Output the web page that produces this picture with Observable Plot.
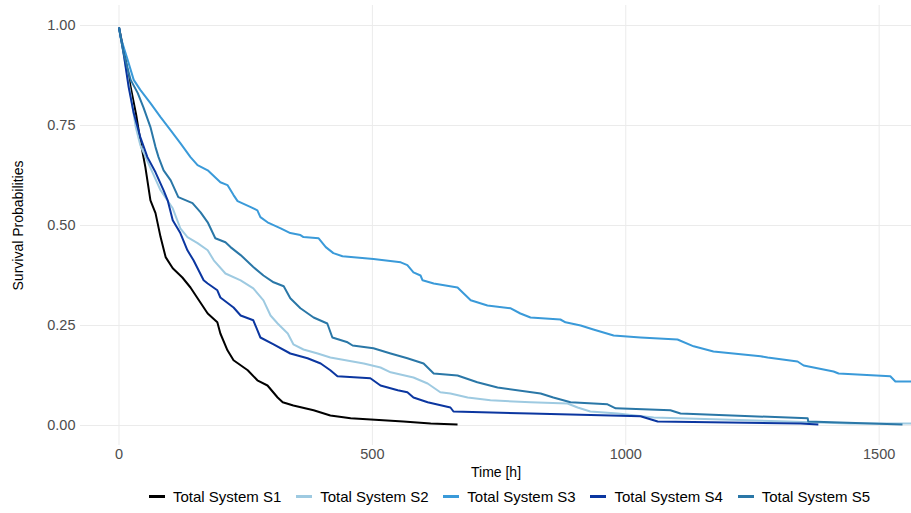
<!DOCTYPE html>
<html><head><meta charset="utf-8">
<script src="https://cdn.jsdelivr.net/npm/d3@7"></script>
<script src="https://cdn.jsdelivr.net/npm/@observablehq/plot@0.6"></script>
<style>
body{margin:0;background:#fff;font-family:"Liberation Sans",Arial,sans-serif;}
#legend{display:flex;justify-content:center;align-items:center;padding-left:108px;width:911px;box-sizing:border-box;height:33px;font-size:15px;color:#000;}
.item{display:flex;align-items:center;margin:0 7.4px;}
.key{width:16px;height:3px;margin-right:8px;}
</style></head><body><div id="chart"></div><div id="legend"></div>
<script>
const seriesNames = ["Total System S1","Total System S2","Total System S3","Total System S4","Total System S5"];
const seriesColors = ["#000000","#9ECAE1","#3A9AD9","#0B36A0","#2A77A7"];

const s1Time = [0,13,23,34,42,52,62,72,82,92,106,125,141,155,175,194,200,214,226,254,273,293,313,323,344,384,417,457,561,615,668];
const s1Surv = [0.995,0.914,0.846,0.776,0.713,0.646,0.563,0.531,0.471,0.421,0.393,0.370,0.345,0.318,0.280,0.258,0.230,0.188,0.163,0.138,0.113,0.100,0.070,0.058,0.050,0.038,0.025,0.018,0.010,0.005,0.0025];

const s2Time = [0,13,23,33,42,62,82,106,121,135,155,175,187,210,240,265,285,299,313,333,344,364,392,417,483,516,536,581,609,634,654,688,733,812,885,905,930,984,1055,1319,1443,1564];
const s2Surv = [0.995,0.901,0.826,0.746,0.701,0.644,0.588,0.543,0.493,0.471,0.456,0.438,0.413,0.380,0.363,0.343,0.313,0.275,0.255,0.230,0.203,0.190,0.180,0.170,0.155,0.145,0.133,0.120,0.105,0.083,0.080,0.070,0.063,0.058,0.055,0.045,0.035,0.030,0.020,0.010,0.005,0.005];

const s3Time = [0,3,17,29,42,62,82,102,121,141,155,175,200,214,226,234,260,273,279,293,319,338,358,364,394,408,423,441,502,556,569,581,595,599,621,668,694,727,773,792,812,871,881,911,936,976,1029,1102,1134,1173,1266,1280,1339,1351,1410,1420,1522,1532,1564];
const s3Surv = [0.995,0.971,0.914,0.864,0.839,0.806,0.771,0.738,0.706,0.671,0.651,0.638,0.608,0.601,0.576,0.561,0.546,0.538,0.521,0.508,0.493,0.481,0.476,0.471,0.468,0.446,0.431,0.423,0.416,0.408,0.401,0.383,0.375,0.363,0.355,0.345,0.313,0.300,0.293,0.280,0.270,0.265,0.258,0.250,0.240,0.225,0.220,0.215,0.198,0.185,0.173,0.170,0.160,0.150,0.135,0.130,0.123,0.110,0.110];

const s4Time = [0,9,19,29,42,56,72,88,96,106,121,135,147,167,175,194,200,226,240,265,279,305,338,372,398,417,431,496,516,550,569,581,609,654,660,812,1029,1063,1345,1380];
const s4Surv = [0.995,0.931,0.846,0.781,0.721,0.671,0.633,0.588,0.563,0.513,0.481,0.438,0.413,0.363,0.355,0.338,0.320,0.295,0.275,0.263,0.220,0.203,0.180,0.168,0.155,0.138,0.123,0.118,0.100,0.088,0.083,0.070,0.058,0.045,0.035,0.030,0.023,0.010,0.005,0.0025];

const s5Time = [0,9,23,37,48,62,72,78,88,102,117,145,161,175,190,210,220,240,265,285,305,325,338,358,384,411,421,451,461,502,536,569,601,621,668,707,747,832,857,891,964,980,1088,1108,1359,1360,1546];
const s5Surv = [0.995,0.931,0.864,0.831,0.796,0.746,0.696,0.671,0.638,0.613,0.571,0.556,0.533,0.508,0.468,0.458,0.446,0.426,0.396,0.375,0.358,0.348,0.318,0.293,0.270,0.255,0.220,0.208,0.200,0.193,0.180,0.168,0.155,0.130,0.125,0.108,0.095,0.080,0.070,0.058,0.053,0.043,0.038,0.030,0.018,0.010,0.0025];

const xTicks = [0,500,1000,1500];
const yTicks = [0,0.25,0.5,0.75,1];

const allTimes = [s1Time,s2Time,s3Time,s4Time,s5Time];
const allSurv = [s1Surv,s2Surv,s3Surv,s4Surv,s5Surv];
const rows = [];
seriesNames.forEach((name,i) => {
  allTimes[i].forEach((t,j) => rows.push({series:name, t, s: allSurv[i][j]}));
});

const chart = Plot.plot({
  width: 911, height: 480,
  marginLeft: 80, marginRight: 0, marginTop: 5, marginBottom: 35,
  style: {fontFamily: '"Liberation Sans", Arial, sans-serif', background: "#fff"},
  x: {domain: [-76, 1563.8]},
  y: {domain: [-0.05, 1.05]},
  color: {domain: seriesNames, range: seriesColors},
  marks: [
    Plot.gridX(xTicks, {stroke: "#EBEBEB", strokeOpacity: 1, strokeWidth: 1}),
    Plot.gridY(yTicks, {stroke: "#EBEBEB", strokeOpacity: 1, strokeWidth: 1}),
    Plot.axisX(xTicks, {tickSize: 0, tickPadding: 3, fontSize: 14.5, fill: "#4D4D4D", tickFormat: d3.format("d"), label: null}),
    Plot.axisY(yTicks, {tickSize: 0, tickPadding: 5, fontSize: 14.5, fill: "#4D4D4D", tickFormat: d3.format(".2f"), label: null}),
    Plot.axisX({ticks: [], tickSize: 0, label: "Time [h]", labelAnchor: "center", labelArrow: "none", labelOffset: 31, fontSize: 14, fill: "#000"}),
    Plot.axisY({ticks: [], tickSize: 0, label: "Survival Probabilities", labelAnchor: "center", labelArrow: "none", labelOffset: 67, fontSize: 14, fill: "#000"}),
    Plot.line(rows, {x: "t", y: "s", z: "series", stroke: "series", strokeWidth: 2, clip: true, strokeLinecap: "butt"})
  ]
});
document.getElementById("chart").appendChild(chart);

const legend = document.getElementById("legend");
seriesNames.forEach((name,i) => {
  const item = document.createElement("div");
  item.className = "item";
  const key = document.createElement("span");
  key.className = "key";
  key.style.background = seriesColors[i];
  const label = document.createElement("span");
  label.textContent = name;
  item.appendChild(key); item.appendChild(label);
  legend.appendChild(item);
});
</script></body></html>
